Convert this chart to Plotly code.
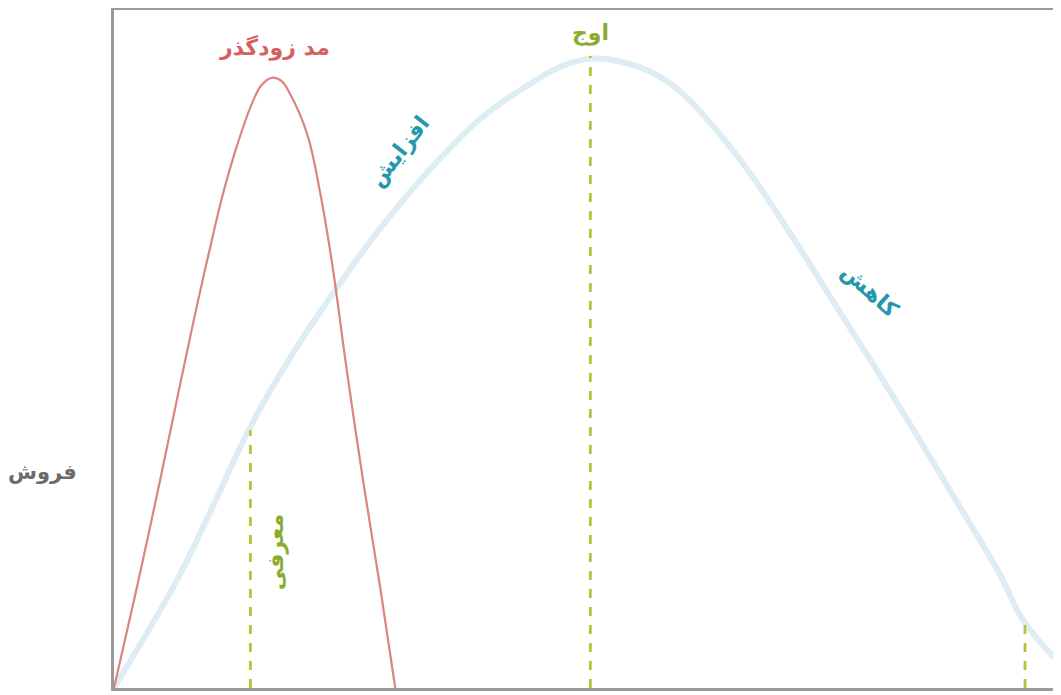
import plotly.graph_objects as go

# product life cycle vs. fad (x = time, y = sales)
fad_x = [0, 2.43, 4.86, 7.18, 8.87, 10.24, 11.51, 12.99, 14.68, 15.63, 16.68, 17.7,
         18.6, 20.4, 21.75, 23.0, 24.6, 26.3, 28.1, 29.7]
fad_y = [0, 14.9, 30.6, 46.1, 57.1, 65.5, 72.9, 80.0, 86.6, 89.0, 90.0, 89.5,
         87.6, 81.7, 73.2, 62.9, 46.7, 30.6, 14.9, 0]

plc_x = [0, 6.65, 10.14, 14.36, 18.59, 23.13, 27.03, 30.2, 34.43, 38.97, 43.93, 47.1, 50.2,
         53.4, 58.4, 65.4, 71.1, 75.9, 80.9, 85.1, 88.6, 93.6, 96.0, 100]
plc_y = [0, 15.9, 25.9, 38.4, 48.7, 58.2, 65.8, 71.4, 78.1, 84.3, 89.1, 91.6, 92.8,
         92.4, 89.5, 79.2, 67.7, 57.1, 46.1, 36.5, 28.4, 16.6, 10.0, 3.4]

stage_x = [14.4, 50.3, 96.2]
stage_top = [38.0, 93.2, 9.6]

font = 'DejaVu Sans'

fig = go.Figure()

fig.add_trace(go.Scatter(x=plc_x, y=plc_y, mode='lines',
                         line=dict(color='rgba(208,229,239,0.7)', width=6, shape='spline', smoothing=1.1),
                         hoverinfo='skip', showlegend=False))

for sx, st in zip(stage_x, stage_top):
    fig.add_trace(go.Scatter(x=[sx, sx], y=[0, st], mode='lines',
                             line=dict(color='#b9c036', width=2.8, dash='dash'),
                             hoverinfo='skip', showlegend=False))

fig.add_trace(go.Scatter(x=fad_x, y=fad_y, mode='lines',
                         line=dict(color='#d98580', width=2.2, shape='spline', smoothing=1.1),
                         hoverinfo='skip', showlegend=False))

labels = [
    ('مد زودگذر', 17.0, 94.4, 0, '#d6605e'),
    ('اوج', 50.3, 96.6, 0, '#8aab2c'),
    ('افزایش', 30.2, 79.2, -52, '#2198ad'),
    ('کاهش', 79.8, 58.6, 42, '#2198ad'),
    ('معرفی', 17.2, 20.0, -90, '#8aab2c'),
]
for txt, x, y, ang, col in labels:
    fig.add_annotation(text='<b>' + txt + '</b>', x=x, y=y, xref='x', yref='y',
                       showarrow=False, textangle=ang, xanchor='center', yanchor='middle',
                       font=dict(family=font, size=22, color=col))

fig.add_annotation(text='<b>فروش</b>', x=-0.075, y=0.318, xref='paper', yref='paper',
                   showarrow=False, xanchor='center', yanchor='middle',
                   font=dict(family=font, size=21, color='#6b6b6b'))

fig.update_layout(
    width=1053, height=687,
    margin=dict(l=106, r=0, t=2, b=7),
    paper_bgcolor='white', plot_bgcolor='white',
    xaxis=dict(range=[0, 100], showline=True, linecolor='#9a9a9a', linewidth=3, mirror=True,
               showgrid=False, zeroline=False, showticklabels=False, ticks=''),
    yaxis=dict(range=[0, 100], showline=True, linecolor='#9a9a9a', linewidth=3,
               showgrid=False, zeroline=False, showticklabels=False, ticks=''),
)

fig.write_html("out.html")
